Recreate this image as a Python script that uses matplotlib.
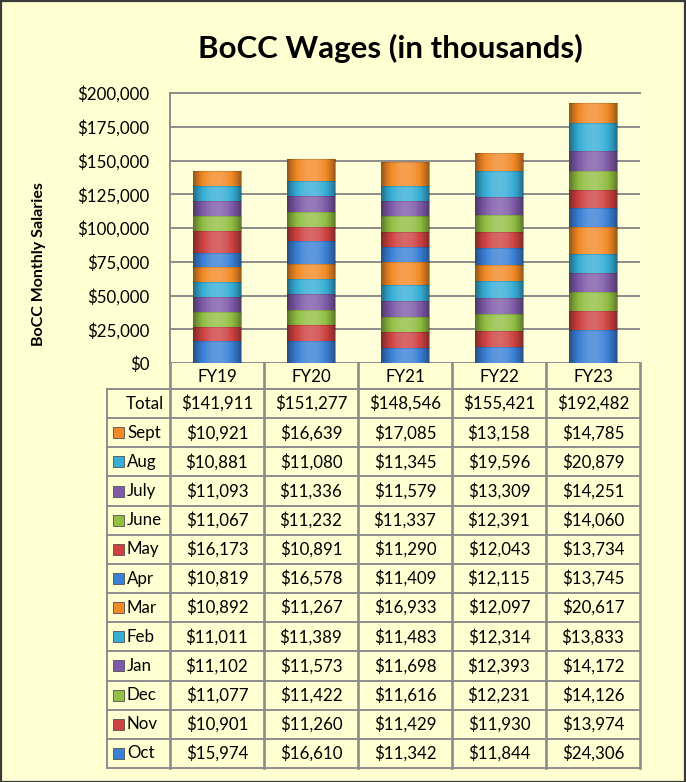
import numpy as np
import matplotlib
matplotlib.use("Agg")
import matplotlib.pyplot as plt
from matplotlib.patches import Rectangle

# ---------------- data ----------------
years = ["FY19", "FY20", "FY21", "FY22", "FY23"]
months = ["Oct", "Nov", "Dec", "Jan", "Feb", "Mar", "Apr", "May", "June", "July", "Aug", "Sept"]
oct_v = [15974, 16610, 11342, 11844, 24306]
nov_v = [10901, 11260, 11429, 11930, 13974]
dec_v = [11077, 11422, 11616, 12231, 14126]
jan_v = [11102, 11573, 11698, 12393, 14172]
feb_v = [11011, 11389, 11483, 12314, 13833]
mar_v = [10892, 11267, 16933, 12097, 20617]
apr_v = [10819, 16578, 11409, 12115, 13745]
may_v = [16173, 10891, 11290, 12043, 13734]
jun_v = [11067, 11232, 11337, 12391, 14060]
jul_v = [11093, 11336, 11579, 13309, 14251]
aug_v = [10881, 11080, 11345, 19596, 20879]
sep_v = [10921, 16639, 17085, 13158, 14785]
totals = [141911, 151277, 148546, 155421, 192482]
series = [oct_v, nov_v, dec_v, jan_v, feb_v, mar_v, apr_v, may_v, jun_v, jul_v, aug_v, sep_v]
yticks = [0, 25000, 50000, 75000, 100000, 125000, 150000, 175000, 200000]

base = ["#3A80D6", "#CF4242", "#92BE42", "#7E5AA8", "#36AED6", "#F28A26"]
colors = [base[i % 6] for i in range(12)]

FONT = ["Lato", "DejaVu Sans"]
plt.rcParams["font.family"] = FONT

W, H = 686, 782
fig = plt.figure(figsize=(W / 100, H / 100), dpi=100)
bg = "#FFFFD2"
fig.patch.set_facecolor(bg)

def fx(px):
    return px / W

def fy(py):
    return 1 - py / H

FS = 12.2

# main axes
left, right, top, bottom = 170, 640, 93, 363
ax = fig.add_axes([fx(left), fy(bottom), fx(right) - fx(left), fy(top) - fy(bottom)])
ax.set_facecolor("#FFFFDA")

x = np.arange(len(years))
bw = 0.52
bottoms = np.zeros(len(years))
all_patches = []
for vals, c in zip(series, colors):
    bars = ax.bar(x, vals, bw, bottom=bottoms, color=c, edgecolor="none", zorder=3)
    all_patches.extend(bars.patches)
    bottoms = bottoms + np.array(vals)

# cylinder shading overlay
n = 256
t = np.linspace(0, 1, n)
d = np.abs(t - 0.5) * 2
s = 0.2 - 0.6 * d ** 2.0
rgba = np.zeros((1, n, 4))
rgba[0, :, :3] = np.where(s[:, None] > 0, 1.0, 0.0)
rgba[0, :, 3] = np.abs(s)
for p in all_patches:
    x0, y0, w, h = p.get_x(), p.get_y(), p.get_width(), p.get_height()
    im = ax.imshow(rgba, extent=(x0, x0 + w, y0, y0 + h), aspect="auto",
                   interpolation="bilinear", zorder=4)
    im.set_clip_path(p)
    ax.plot([x0, x0 + w], [y0 + h, y0 + h], color="black", alpha=0.12, lw=0.8, zorder=5)

ax.set_xlim(-0.5, len(years) - 0.5)
ax.set_ylim(0, 200000)
ax.set_yticks(yticks)
ax.set_yticklabels(["${:,}".format(v) for v in yticks], fontsize=FS)
ax.set_xticks([])
ax.tick_params(axis="y", length=0, pad=15)
ax.grid(axis="y", color="#8C8C8C", lw=1.4, zorder=1)
for sp in ["right", "bottom"]:
    ax.spines[sp].set_visible(False)
ax.spines["top"].set_color("#8C8C8C")
ax.spines["top"].set_linewidth(1.4)
ax.spines["left"].set_color("#8C8C8C")
ax.spines["left"].set_linewidth(1.4)

# ---------------- data table ----------------
tleft, tbottom = 107, 768
tax = fig.add_axes([fx(tleft), fy(tbottom), fx(right) - fx(tleft), fy(bottom) - fy(tbottom)])
tax.set_facecolor("none")
colw = (right - left) / len(years)
lab_w = (left - tleft) / colw
tax.set_xlim(-0.5 - lab_w, len(years) - 0.5)
nrows = 13
rowh = 29.15
hdr = 26 / rowh
tax.set_ylim(hdr + nrows, 0)
tax.axis("off")

gc = "#8C8C8C"
lw = 1.4
for i, yr in enumerate(years):
    tax.text(i, hdr / 2 + 0.05, yr, ha="center", va="center", fontsize=FS)
tax.plot([-0.5, len(years) - 0.5], [hdr, hdr], color=gc, lw=lw)
row_names = ["Total"] + months[::-1]
row_vals = [totals] + series[::-1]
row_cols = [None] + colors[::-1]
xl = -0.5 - lab_w
for r in range(nrows + 1):
    yy = hdr + r
    tax.plot([xl, len(years) - 0.5], [yy, yy], color=gc, lw=lw, clip_on=False)
tax.plot([xl, xl], [hdr, hdr + nrows], color=gc, lw=lw, clip_on=False)
for i in range(len(years) + 1):
    tax.plot([i - 0.5, i - 0.5], [0, hdr + nrows], color=gc, lw=1.9, clip_on=False)

for r, (name, vals, c) in enumerate(zip(row_names, row_vals, row_cols)):
    yc = hdr + r + 0.5
    for i, v in enumerate(vals):
        tax.text(i, yc, "${:,}".format(v), ha="center", va="center", fontsize=FS)
    if c is None:
        tax.text(-0.5 - 0.06, yc, name, ha="right", va="center", fontsize=FS)
    else:
        ks = 11 / colw
        kh = 11 / rowh
        tax.add_patch(Rectangle((xl + 6 / colw, yc - kh / 2), ks, kh, facecolor=c,
                                edgecolor="#505050", lw=0.6, clip_on=False))
        tax.text(xl + 20 / colw, yc, name, ha="left", va="center", fontsize=FS)

# title and axis label
fig.text(fx(390), fy(48), "BoCC Wages (in thousands)", ha="center", va="center",
         fontsize=22.5, fontweight="bold")
fig.text(fx(39), fy(264), "BoCC Monthly Salaries", ha="center", va="center",
         rotation=90, fontsize=11.5, fontweight="bold")

# outer border
fig.add_artist(Rectangle((0.5 / W, 0.5 / H), 1 - 1.5 / W, 1 - 1.5 / H, transform=fig.transFigure,
                         facecolor="none", edgecolor="#3A3A3A", lw=1.6))

fig.savefig("out.png", dpi=100, facecolor=fig.get_facecolor())
